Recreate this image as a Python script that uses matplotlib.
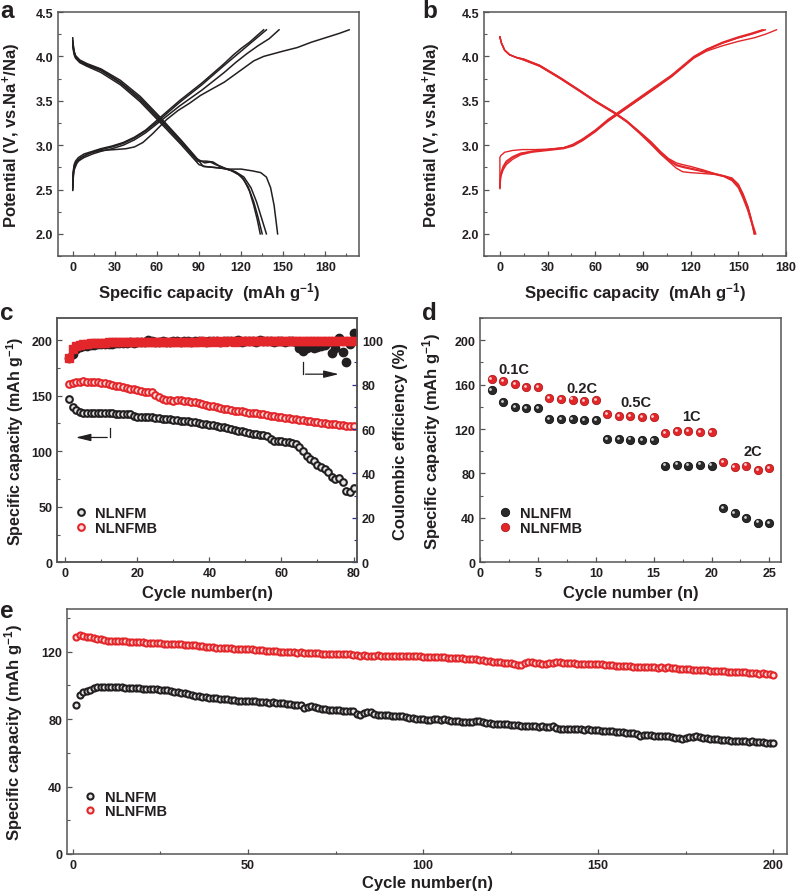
# encoding utf8
# 电池性能组图 a-e

import numpy as np
import matplotlib.pyplot as plt
from matplotlib.ticker import MultipleLocator
from matplotlib.transforms import offset_copy

plt.rcParams['font.family'] = ['Liberation Sans', 'DejaVu Sans']
plt.rcParams['font.weight'] = 'bold'
plt.rcParams['axes.labelweight'] = 'bold'
plt.rcParams['mathtext.fontset'] = 'custom'
plt.rcParams['mathtext.bf'] = 'Liberation Sans:bold'
plt.rcParams['mathtext.rm'] = 'Liberation Sans:bold'
plt.rcParams['mathtext.default'] = 'bf'

INK = '#231f20'
RED = '#e3262a'
SPINE = '#555555'

# ---------------- 数据 a: NLNFM 充放电曲线 ----------------
a_chg1_x = [0, 0.3, 1, 3, 6, 12, 20, 30, 38, 44, 50, 57, 62, 67, 75, 83, 91, 100, 108, 115,
            122, 129, 136, 143, 150, 160, 170, 180, 190, 197]
a_chg1_v = [2.49, 2.62, 2.72, 2.80, 2.86, 2.91, 2.94, 2.95, 2.96, 2.98, 3.03, 3.13, 3.21, 3.29, 3.39,
            3.47, 3.56, 3.64, 3.71, 3.79, 3.87, 3.95, 4.00, 4.03, 4.06, 4.10, 4.16, 4.21, 4.26, 4.30]
a_chg2_x = [0, 0.3, 1, 2, 4, 8, 14, 20, 28, 36, 44, 52, 60, 68, 76, 84, 92, 100, 108, 114, 120, 126, 131, 136]
a_chg2_v = [2.55, 2.70, 2.78, 2.82, 2.86, 2.90, 2.93, 2.96, 2.99, 3.03, 3.09, 3.17, 3.28, 3.39, 3.50,
            3.60, 3.70, 3.81, 3.92, 4.01, 4.09, 4.16, 4.23, 4.30]
a_chg3_x = [0, 0.3, 1, 2, 4, 8, 14, 20, 28, 36, 44, 52, 60, 68, 76, 84, 92, 100, 108, 114, 120, 126, 132, 138]
a_chg3_v = [2.52, 2.68, 2.76, 2.80, 2.84, 2.88, 2.92, 2.95, 2.98, 3.02, 3.08, 3.16, 3.26, 3.37, 3.48,
            3.58, 3.68, 3.79, 3.90, 3.98, 4.06, 4.14, 4.22, 4.30]
a_chg4_x = [0, 0.3, 1, 2, 4, 8, 14, 20, 28, 36, 44, 52, 60, 68, 76, 84, 92, 100, 108, 116, 124, 132, 140, 147]
a_chg4_v = [2.50, 2.66, 2.74, 2.78, 2.82, 2.86, 2.90, 2.93, 2.96, 3.00, 3.06, 3.14, 3.24, 3.34, 3.44,
            3.53, 3.62, 3.72, 3.82, 3.93, 4.03, 4.12, 4.20, 4.30]

a_dis1_x = [0, 0.3, 1, 2, 5, 10, 20, 34, 48, 62, 77, 88, 93, 100, 106, 112, 118, 122, 126, 129, 131.5, 133.6]
a_dis1_v = [4.21, 4.14, 4.06, 4.01, 3.96, 3.92, 3.86, 3.73, 3.55, 3.32, 3.06, 2.86, 2.76, 2.75, 2.74,
            2.72, 2.67, 2.61, 2.48, 2.32, 2.16, 2.00]
a_dis2_x = [0, 0.3, 1, 2, 5, 10, 20, 34, 48, 62, 77, 88, 94, 98, 102, 108, 114, 120, 125, 129, 132, 135]
a_dis2_v = [4.18, 4.12, 4.05, 4.00, 3.95, 3.91, 3.85, 3.71, 3.53, 3.30, 3.05, 2.85, 2.80, 2.81, 2.78,
            2.74, 2.71, 2.65, 2.53, 2.36, 2.19, 2.00]
a_dis3_x = [0, 0.3, 1, 2, 5, 10, 20, 34, 48, 62, 77, 89, 95, 100, 104, 110, 116, 122, 127, 131, 134.5, 138]
a_dis3_v = [4.15, 4.10, 4.04, 3.99, 3.94, 3.90, 3.84, 3.70, 3.51, 3.28, 3.03, 2.82, 2.82, 2.81, 2.77,
            2.73, 2.70, 2.64, 2.52, 2.36, 2.18, 2.00]
a_dis4_x = [0, 0.3, 1, 2, 5, 10, 20, 34, 48, 62, 77, 90, 94, 100, 106, 112, 120, 128, 134, 138, 141, 143.5, 146]
a_dis4_v = [4.12, 4.08, 4.02, 3.98, 3.93, 3.89, 3.82, 3.68, 3.49, 3.26, 3.01, 2.78, 2.76, 2.75, 2.74,
            2.73, 2.73, 2.71, 2.69, 2.64, 2.52, 2.32, 2.00]

# ---------------- 数据 b: NLNFMB 充放电曲线 ----------------
b_chg1_x = [0, 0, 0.5, 3, 8, 14, 22, 30, 40, 46, 52, 60, 68, 76, 84, 92, 100, 108, 116, 122,
            130, 140, 150, 160, 167, 174]
b_chg1_v = [2.52, 2.86, 2.88, 2.92, 2.94, 2.95, 2.95, 2.955, 2.97, 3.00, 3.06, 3.16, 3.27, 3.37, 3.47,
            3.57, 3.67, 3.77, 3.89, 3.98, 4.06, 4.12, 4.17, 4.21, 4.25, 4.30]
b_chg2_x = [0, 0.5, 2, 4, 8, 13, 20, 30, 40, 46, 52, 60, 68, 76, 84, 92, 100, 108, 116, 122,
            130, 140, 150, 160, 167]
b_chg2_v = [2.52, 2.66, 2.74, 2.80, 2.86, 2.90, 2.93, 2.95, 2.97, 3.00, 3.06, 3.16, 3.28, 3.38, 3.48,
            3.58, 3.68, 3.78, 3.90, 3.99, 4.07, 4.15, 4.21, 4.26, 4.30]
b_chg3_x = [0, 0.5, 2, 4, 8, 13, 20, 30, 40, 46, 52, 60, 68, 76, 84, 92, 100, 108, 116, 122,
            130, 140, 150, 158, 165]
b_chg3_v = [2.51, 2.64, 2.72, 2.78, 2.84, 2.89, 2.92, 2.94, 2.96, 2.99, 3.05, 3.15, 3.27, 3.37, 3.47,
            3.57, 3.67, 3.78, 3.90, 3.99, 4.08, 4.16, 4.22, 4.26, 4.30]
b_chg4_x = [0, 0.5, 2, 4, 8, 13, 20, 30, 40, 46, 52, 60, 68, 76, 84, 92, 100, 108, 116, 122,
            130, 140, 150, 158, 166]
b_chg4_v = [2.53, 2.68, 2.76, 2.82, 2.87, 2.91, 2.93, 2.95, 2.97, 3.01, 3.07, 3.17, 3.29, 3.39, 3.49,
            3.59, 3.69, 3.79, 3.91, 4.00, 4.08, 4.15, 4.21, 4.25, 4.30]

b_dis1_x = [0, 1, 3, 6, 10, 15, 25, 38, 50, 60, 72, 80, 88, 95, 101, 106, 111, 115, 120, 128,
            135, 141, 146, 150, 153, 156, 158, 160]
b_dis1_v = [4.22, 4.15, 4.07, 4.02, 3.99, 3.97, 3.90, 3.76, 3.62, 3.50, 3.37, 3.27, 3.15, 3.04, 2.93,
            2.85, 2.80, 2.78, 2.76, 2.72, 2.68, 2.65, 2.61, 2.53, 2.42, 2.28, 2.16, 2.00]
b_dis2_x = [0, 1, 3, 6, 10, 15, 25, 38, 50, 60, 72, 80, 88, 95, 101, 106, 111, 115, 120, 128,
            135, 141, 146, 150, 153, 156, 158, 160.5]
b_dis2_v = [4.22, 4.15, 4.07, 4.02, 3.99, 3.96, 3.89, 3.75, 3.61, 3.49, 3.36, 3.26, 3.13, 3.01, 2.90,
            2.82, 2.74, 2.70, 2.69, 2.68, 2.67, 2.645, 2.60, 2.52, 2.40, 2.26, 2.14, 2.00]
b_dis3_x = [0, 1, 3, 6, 10, 15, 25, 38, 50, 60, 72, 80, 88, 95, 101, 106, 111, 115, 120, 128,
            135, 141, 146, 150, 153, 156, 158, 161]
b_dis3_v = [4.22, 4.15, 4.07, 4.02, 3.99, 3.96, 3.89, 3.75, 3.61, 3.49, 3.36, 3.26, 3.14, 3.02, 2.91,
            2.83, 2.77, 2.75, 2.73, 2.70, 2.675, 2.65, 2.62, 2.55, 2.44, 2.30, 2.17, 2.00]
b_dis4_x = [0, 1, 3, 6, 10, 15, 25, 38, 50, 60, 72, 80, 88, 95, 101, 106, 111, 115, 120, 128,
            135, 141, 146, 150, 153, 156, 158, 160]
b_dis4_v = [4.22, 4.15, 4.07, 4.02, 3.99, 3.97, 3.90, 3.76, 3.62, 3.50, 3.37, 3.27, 3.14, 3.03, 2.92,
            2.84, 2.78, 2.76, 2.74, 2.71, 2.68, 2.655, 2.63, 2.56, 2.45, 2.31, 2.18, 2.00]

# ---------------- 数据 c: 80 次循环 ----------------
c_cycle = list(range(1, 81))
c_cap_m = [147.0, 139.4, 137.0, 135.0, 134.5, 134.3, 134.2, 134.3, 134.4, 134.3,
           134.2, 134.1, 134.0, 133.8, 133.7, 133.6, 133.4, 133.2, 132.0, 131.2,
           131.0, 130.8, 130.6, 130.4, 130.0, 129.6, 129.3, 129.0, 128.6, 128.2,
           127.8, 127.5, 127.2, 126.8, 126.4, 126.0, 125.6, 124.8, 124.4, 123.9,
           123.3, 122.7, 122.1, 121.5, 120.6, 120.0, 119.3, 118.6, 118.0, 117.4,
           116.6, 115.8, 115.2, 114.6, 114.4, 113.4, 111.0, 109.6, 109.4, 109.2,
           108.4, 107.9, 107.4, 106.8, 103.4, 100.4, 96.0, 93.4, 91.4, 88.0,
           85.4, 83.6, 81.5, 76.4, 75.0, 75.6, 71.9, 63.8, 63.6, 66.5]
c_cap_mb = [160.8, 161.8, 162.6, 162.8, 162.9, 162.8, 162.7, 162.5, 162.2, 161.8,
            161.2, 160.6, 159.8, 159.0, 158.4, 157.8, 157.2, 156.5, 155.9, 155.2,
            154.4, 153.4, 153.8, 153.2, 150.6, 148.6, 147.0, 146.3, 146.0, 145.6,
            146.2, 145.8, 145.4, 145.0, 144.6, 144.0, 143.2, 142.4, 141.6, 141.0,
            140.3, 139.6, 139.0, 138.4, 137.8, 137.1, 136.6, 136.3, 136.0, 135.6,
            134.8, 134.4, 134.0, 133.6, 133.2, 132.7, 132.1, 131.5, 130.9, 130.5,
            130.1, 129.6, 129.1, 128.6, 128.1, 127.7, 127.3, 126.9, 126.5, 126.1,
            125.7, 125.3, 124.9, 124.5, 124.1, 123.7, 123.3, 123.0, 122.7, 122.4]
c_ce_m = [92.0, 93.8, 96.0, 97.0, 97.3, 97.6, 97.8, 98.0, 98.1, 98.2,
          98.3, 98.4, 98.5, 98.6, 98.8, 98.7, 98.9, 99.0, 98.9, 99.1,
          99.2, 99.4, 100.2, 99.6, 99.1, 99.3, 99.5, 99.2, 99.4, 99.6,
          99.7, 99.3, 99.5, 99.8, 99.4, 99.6, 99.5, 99.7, 99.3, 99.6,
          99.5, 99.7, 99.4, 99.6, 99.8, 99.5, 99.6, 100.1, 99.4, 99.7,
          99.5, 99.8, 99.3, 100.2, 99.6, 99.5, 99.8, 99.4, 99.6, 99.7,
          99.3, 99.6, 99.5, 99.2, 96.7, 95.2, 96.7, 97.4, 96.7, 97.0,
          97.4, 98.0, 99.0, 94.2, 96.7, 101.2, 94.9, 90.0, 98.5, 103.1]
c_ce_mb = [92.2, 96.0, 97.2, 97.8, 98.2, 98.5, 98.6, 98.7, 98.8, 98.9,
           98.9, 99.0, 99.0, 99.1, 99.0, 99.1, 99.2, 99.1, 99.2, 99.2,
           99.3, 99.2, 99.4, 99.3, 99.2, 99.3, 99.4, 99.3, 99.3, 99.4,
           99.3, 99.4, 99.3, 99.4, 99.4, 99.3, 99.4, 99.5, 99.4, 99.4,
           99.5, 99.4, 99.5, 99.4, 99.5, 99.5, 99.4, 99.5, 99.5, 99.6,
           99.5, 99.5, 99.6, 99.5, 99.6, 99.5, 99.6, 99.5, 99.6, 99.6,
           99.5, 99.6, 99.6, 99.5, 99.6, 99.6, 99.5, 99.6, 99.7, 99.6,
           99.6, 99.7, 99.6, 99.6, 99.7, 99.6, 99.7, 99.6, 99.7, 99.7]

# ---------------- 数据 d: 倍率性能 ----------------
d_cycle = list(range(1, 26))
d_cap_m = [155, 144, 139.4, 139, 139, 129, 129, 129, 128.3, 128,
           111, 111, 110.5, 110, 110, 87, 88, 87, 88, 87,
           49, 44, 40, 35.8, 35.5]
d_cap_mb = [165, 163.4, 160.7, 158, 157.7, 147.8, 147.3, 146.5, 145.5, 146,
            133.4, 132, 132, 131, 131, 116, 118, 118, 117.3, 117,
            90.5, 85.8, 87, 83, 85]
d_rates = ['0.1C', '0.2C', '0.5C', '1C', '2C']
d_rate_x = [2.9, 8.8, 13.5, 18.3, 23.6]
d_rate_y = [174, 157, 144.5, 132, 100]

# ---------------- 数据 e: 200 次循环 ----------------
e_cycle = list(range(1, 201))
e_cap_m = [88.3, 94.3, 95.8, 96.8, 97.4, 98.2, 98.9, 99.2, 99.2, 99.1,
           99.2, 99.0, 98.8, 98.9, 98.7, 98.6, 98.5, 98.2, 98.3, 98.0,
           97.8, 97.9, 97.6, 97.7, 97.4, 97.2, 97.0, 96.6, 96.3, 95.8,
           95.6, 95.3, 94.9, 94.6, 93.9, 93.8, 93.4, 93.0, 92.8, 92.5,
           92.3, 92.0, 91.8, 91.7, 91.5, 91.2, 90.6, 91.0, 90.8, 90.9,
           90.6, 90.5, 90.2, 90.3, 90.0, 89.8, 90.1, 89.6, 89.5, 89.3,
           89.0, 88.8, 88.6, 88.4, 88.3, 86.8, 87.4, 87.9, 87.0, 86.4,
           86.0, 85.8, 85.6, 85.6, 85.4, 85.3, 85.1, 84.9, 84.8, 84.6,
           83.2, 82.4, 83.4, 84.0, 84.2, 83.0, 82.6, 82.7, 82.4, 82.2,
           82.0, 82.1, 81.9, 81.6, 81.2, 80.8, 80.5, 80.3, 80.0, 79.8,
           79.2, 79.6, 80.0, 79.8, 79.6, 80.1, 79.4, 79.0, 78.8, 78.6,
           78.3, 78.0, 78.2, 78.4, 78.9, 78.6, 78.1, 77.8, 77.6, 77.4,
           77.2, 77.0, 77.1, 76.9, 76.6, 76.4, 76.5, 76.2, 76.0, 75.8,
           75.7, 75.9, 75.6, 75.7, 75.5, 75.6, 75.7, 74.6, 74.1, 74.3,
           74.4, 74.2, 74.0, 73.9, 74.0, 73.8, 73.9, 73.7, 73.6, 73.3,
           73.1, 73.2, 73.1, 72.8, 72.4, 72.2, 72.1, 71.9, 71.8, 71.6,
           71.0, 70.2, 70.4, 70.5, 70.3, 70.2, 70.0, 69.8, 70.1, 70.2,
           69.6, 69.0, 68.6, 68.4, 68.8, 69.3, 69.6, 69.8, 69.4, 69.0,
           68.8, 68.4, 68.2, 68.0, 67.8, 67.5, 67.4, 67.2, 67.1, 67.2,
           67.0, 66.8, 66.6, 66.8, 66.6, 66.2, 66.3, 66.1, 66.0, 65.8]
e_cap_mb = [129.0, 129.8, 129.5, 128.9, 128.5, 128.2, 127.8, 127.5, 127.0, 126.6,
            126.5, 126.4, 126.6, 126.5, 126.3, 126.0, 125.7, 125.5, 125.6, 125.5,
            125.3, 125.2, 125.0, 125.1, 124.9, 124.8, 124.7, 124.6, 124.5, 124.5,
            124.3, 124.2, 124.2, 124.0, 123.8, 123.6, 123.2, 122.8, 122.6, 122.5,
            122.4, 122.3, 122.1, 122.0, 122.0, 121.8, 121.7, 121.8, 121.6, 121.6,
            121.3, 121.2, 121.0, 120.8, 120.6, 120.5, 120.3, 120.2, 120.0, 119.6,
            119.7, 119.6, 119.8, 119.5, 119.6, 119.4, 119.3, 119.2, 119.1, 119.0,
            118.9, 118.8, 118.7, 118.8, 118.6, 118.7, 118.6, 118.5, 118.6, 118.2,
            117.9, 117.6, 117.8, 117.7, 117.5, 117.6, 117.8, 117.4, 117.2, 117.6,
            117.7, 117.6, 117.6, 117.5, 117.4, 117.6, 117.5, 117.3, 117.2, 117.0,
            116.9, 116.8, 116.7, 116.6, 116.7, 116.8, 116.5, 116.4, 116.2, 116.1,
            116.0, 115.8, 115.7, 115.6, 115.4, 115.2, 114.9, 114.5, 114.3, 114.0,
            113.9, 113.6, 113.4, 113.2, 113.0, 112.5, 112.0, 112.3, 113.2, 114.0,
            113.8, 113.4, 113.0, 112.8, 112.9, 113.2, 113.5, 114.0, 113.6, 113.4,
            113.3, 113.2, 113.0, 112.8, 112.9, 112.8, 112.7, 112.6, 112.6, 112.5,
            112.4, 112.3, 112.2, 112.0, 111.6, 111.8, 111.7, 111.6, 111.3, 111.2,
            111.0, 111.1, 110.9, 110.8, 110.9, 110.7, 110.6, 110.8, 110.6, 110.7,
            110.5, 110.3, 109.9, 109.7, 110.0, 109.6, 109.4, 109.3, 109.2, 109.3,
            109.1, 108.8, 108.4, 108.6, 108.5, 108.3, 108.2, 108.0, 107.9, 108.0,
            107.8, 107.9, 107.6, 107.2, 107.1, 107.0, 107.1, 106.9, 106.6, 106.2]

# ---------------- 初始化 ----------------
fig = plt.figure(figsize=(7.98, 8.95), dpi=100)
ax_a = fig.add_axes([0.0727, 0.7128, 0.3772, 0.2726])
ax_b = fig.add_axes([0.6065, 0.7128, 0.3785, 0.2726])
ax_c = fig.add_axes([0.0715, 0.3706, 0.3760, 0.2730])
ax_d = fig.add_axes([0.6015, 0.3706, 0.3772, 0.2730])
ax_e = fig.add_axes([0.0840, 0.0447, 0.9023, 0.2737])


def style(ax):
    for s in ax.spines.values():
        s.set_color(SPINE)
        s.set_linewidth(1.1)
    ax.tick_params(which='both', direction='in', color=SPINE, labelcolor=INK,
                   labelsize=9, pad=3.5)
    ax.tick_params(which='major', length=3.5, width=0.9)
    ax.tick_params(which='minor', length=2, width=0.8)


def ring(ax, x, y, edge, face, ms=4.8):
    return ax.plot(x, y, 'o', ms=ms, mec=edge, mfc=face, mew=1.5, ls='none')[0]


def ball(ax, x, y, color, dark, ms=6):
    h = ax.plot(x, y, 'o', ms=ms, mfc=color, mec=dark, mew=0.6, ls='none')[0]
    shine = offset_copy(ax.transData, fig=fig, x=-1.2, y=1.2, units='dots')
    ax.plot(x, y, 'o', ms=2.0, mfc='white', mec='none', alpha=0.8, transform=shine, ls='none')
    return h


# ---------------- a ----------------
for xs, vs in [(a_chg1_x, a_chg1_v), (a_chg2_x, a_chg2_v), (a_chg3_x, a_chg3_v), (a_chg4_x, a_chg4_v),
               (a_dis1_x, a_dis1_v), (a_dis2_x, a_dis2_v), (a_dis3_x, a_dis3_v), (a_dis4_x, a_dis4_v)]:
    ax_a.plot(xs, vs, color=INK, lw=1.1)
ax_a.set_xlim(-10.5, 204)
ax_a.set_ylim(1.75, 4.5)
ax_a.xaxis.set_major_locator(MultipleLocator(30))
ax_a.xaxis.set_minor_locator(MultipleLocator(15))
ax_a.yaxis.set_major_locator(MultipleLocator(0.5))
ax_a.yaxis.set_minor_locator(MultipleLocator(0.25))
ax_a.yaxis.set_major_formatter('{x:.1f}')
ax_a.set_xlabel('Specific capacity  (mAh g$^{-1}$)', fontsize=12, color=INK, labelpad=5)
ax_a.set_ylabel('Potential (V, vs.Na$^{+}$/Na)', fontsize=12, color=INK, labelpad=9)
style(ax_a)

# ---------------- b ----------------
for xs, vs in [(b_chg1_x, b_chg1_v), (b_chg2_x, b_chg2_v), (b_chg3_x, b_chg3_v), (b_chg4_x, b_chg4_v),
               (b_dis1_x, b_dis1_v), (b_dis2_x, b_dis2_v), (b_dis3_x, b_dis3_v), (b_dis4_x, b_dis4_v)]:
    ax_b.plot(xs, vs, color=RED, lw=1.0)
ax_b.set_xlim(-10, 180)
ax_b.set_ylim(1.75, 4.5)
ax_b.xaxis.set_major_locator(MultipleLocator(30))
ax_b.xaxis.set_minor_locator(MultipleLocator(15))
ax_b.yaxis.set_major_locator(MultipleLocator(0.5))
ax_b.yaxis.set_minor_locator(MultipleLocator(0.25))
ax_b.yaxis.set_major_formatter('{x:.1f}')
ax_b.set_xlabel('Specific capacity  (mAh g$^{-1}$)', fontsize=12, color=INK, labelpad=5)
ax_b.set_ylabel('Potential (V, vs.Na$^{+}$/Na)', fontsize=12, color=INK, labelpad=13)
style(ax_b)

# ---------------- c ----------------
ax_c2 = ax_c.twinx()
ax_c2.set_position(ax_c.get_position())
h_m = ring(ax_c, c_cycle, c_cap_m, INK, '#e6e6e6')
h_mb = ring(ax_c, c_cycle, c_cap_mb, RED, '#fbe0df')
ax_c2.plot(c_cycle, c_ce_m, 'o', ms=6, color=INK, ls='none')
ax_c2.plot(c_cycle, c_ce_mb, 's', ms=5.5, color=RED, ls='none')
ax_c.set_xlim(-2.3, 81)
ax_c.set_ylim(0, 220)
ax_c2.set_ylim(0, 110)
ax_c.xaxis.set_major_locator(MultipleLocator(20))
ax_c.xaxis.set_minor_locator(MultipleLocator(10))
ax_c.yaxis.set_major_locator(MultipleLocator(50))
ax_c.yaxis.set_minor_locator(MultipleLocator(25))
ax_c2.yaxis.set_major_locator(MultipleLocator(20))
ax_c2.yaxis.set_minor_locator(MultipleLocator(10))
# 箭头
ax_c.plot([12.4, 12.4], [120.6, 112.4], color=INK, lw=0.9)
ax_c.annotate('', xy=(2.1, 112.4), xytext=(12.4, 112.4),
              arrowprops=dict(arrowstyle='-|>,head_length=0.9,head_width=0.22', color=INK, lw=0.9))
ax_c.plot([65.9, 65.9], [180, 169.4], color=INK, lw=0.9)
ax_c.annotate('', xy=(76.7, 169.4), xytext=(65.9, 169.4),
              arrowprops=dict(arrowstyle='-|>,head_length=0.9,head_width=0.22', color=INK, lw=0.9))
ax_c.set_xlabel('Cycle number(n)', fontsize=12, color=INK, labelpad=4)
ax_c.set_ylabel('Specific capacity (mAh g$^{-1}$)', fontsize=11.5, color=INK, labelpad=4)
ax_c2.set_ylabel('Coulombic efficiency (%)', fontsize=12, color=INK, labelpad=7)
ax_c.legend([h_m, h_mb], ['NLNFM', 'NLNFMB'], loc='center left', bbox_to_anchor=(0.055, 0.17),
            frameon=False, fontsize=10.5, handlelength=1.0, handletextpad=0.5,
            labelspacing=0.05, borderpad=0, borderaxespad=0, labelcolor=INK)
style(ax_c)
style(ax_c2)
ax_c2.tick_params(which='both', color='#2b2b8f')

# ---------------- d ----------------
h_dm = ball(ax_d, d_cycle, d_cap_m, '#2a2a2a', '#111111')
h_dmb = ball(ax_d, d_cycle, d_cap_mb, RED, '#b01c1c')
for lab, tx, ty in zip(d_rates, d_rate_x, d_rate_y):
    ax_d.text(tx, ty, lab, ha='center', va='center', fontsize=10.5, color=INK)
ax_d.set_xlim(0, 26)
ax_d.set_ylim(0, 220)
ax_d.xaxis.set_major_locator(MultipleLocator(5))
ax_d.xaxis.set_minor_locator(MultipleLocator(2.5))
ax_d.yaxis.set_major_locator(MultipleLocator(40))
ax_d.yaxis.set_minor_locator(MultipleLocator(20))
ax_d.set_xlabel('Cycle number (n)', fontsize=12, color=INK, labelpad=4)
ax_d.set_ylabel('Specific capacity (mAh g$^{-1}$)', fontsize=12, color=INK, labelpad=8)
ax_d.legend([h_dm, h_dmb], ['NLNFM', 'NLNFMB'], loc='center left', bbox_to_anchor=(0.06, 0.17),
            frameon=False, fontsize=10.5, handlelength=1.0, handletextpad=0.5,
            labelspacing=0.05, borderpad=0, borderaxespad=0, labelcolor=INK)
style(ax_d)

# ---------------- e ----------------
h_em = ring(ax_e, e_cycle, e_cap_m, INK, '#e6e6e6', ms=4.4)
h_emb = ring(ax_e, e_cycle, e_cap_mb, RED, '#fbe0df', ms=4.4)
ax_e.set_xlim(-1.7, 204)
ax_e.set_ylim(0, 145.3)
ax_e.xaxis.set_major_locator(MultipleLocator(50))
ax_e.xaxis.set_minor_locator(MultipleLocator(25))
ax_e.yaxis.set_major_locator(MultipleLocator(40))
ax_e.yaxis.set_minor_locator(MultipleLocator(20))
ax_e.set_xlabel('Cycle number(n)', fontsize=12, color=INK, labelpad=3)
ax_e.set_ylabel('Specific capacity (mAh g$^{-1}$)', fontsize=12, color=INK, labelpad=12)
ax_e.legend([h_em, h_emb], ['NLNFM', 'NLNFMB'], loc='center left', bbox_to_anchor=(0.022, 0.204),
            frameon=False, fontsize=10.5, handlelength=1.0, handletextpad=0.5,
            labelspacing=0.0, borderpad=0, borderaxespad=0, labelcolor=INK)
style(ax_e)

# 子图编号
W, H = 798, 895
for lab, px, py in [('a', 0, 18), ('b', 422, 18), ('c', 0, 320), ('d', 422, 320), ('e', 0, 618)]:
    fig.text(px / W, 1 - py / H, lab, fontsize=17.5, fontweight='bold', color=INK,
             ha='left', va='baseline')

plt.savefig('out.png', dpi=100)
